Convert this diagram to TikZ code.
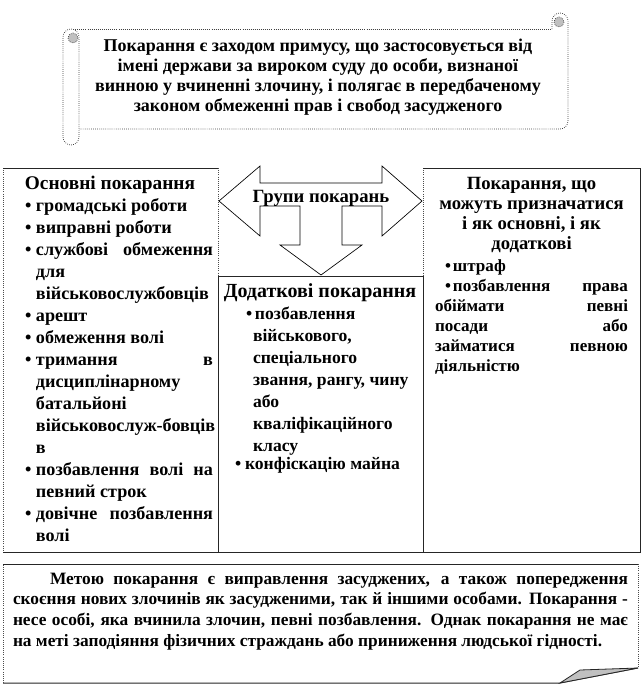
\documentclass[tikz,border=0pt]{standalone}
\usepackage{fontspec}
\setmainfont{Liberation Serif}
\newcommand\bul[1]{\makebox[#1][l]{\textbullet}}
\newcommand\jst{\rightskip=0pt\leftskip=0pt\parfillskip=0pt plus 1fil\tolerance=10000\hyphenpenalty=10000\exhyphenpenalty=10000\relax}
\newcommand\rag{\rightskip=0pt plus 1fil\leftskip=0pt\parfillskip=0pt plus 1fil\tolerance=10000\hyphenpenalty=10000\exhyphenpenalty=10000\relax}
\definecolor{curlgray}{HTML}{C0C0C0}
\tikzset{
  lnsolid/.style={draw=black!85,line width=0.75pt},
  lndot/.style={draw=black!70,line width=0.6pt,densely dotted},
  scrolldot/.style={draw=black!75,line width=0.55pt,densely dotted},
  tx/.style={inner sep=0pt,outer sep=0pt},
  arrowshape/.style={draw=black,line width=0.5pt,fill=white,line join=miter}
}
\begin{document}
\begin{tikzpicture}[x=0.75pt,y=-0.75pt]
\useasboundingbox (0,0) rectangle (642,696);
\fill[white] (0,0) rectangle (642,696);

% ---------- scroll ----------
\fill[white] (71,29) rectangle (568,129);
\draw[scrolldot] (71,29) -- (552,29);
\draw[scrolldot] (568,21) -- (568,121) .. controls (568,125.4) and (564.4,129) .. (560,129) -- (79,129);
% right roll
\filldraw[scrolldot,fill=white] (552,29) -- (552,21) .. controls (552,16.6) and (555.6,13) .. (560,13) .. controls (564.4,13) and (568,16.6) .. (568,21);
\filldraw[scrolldot,fill=curlgray] (559,22) circle[radius=5];
% left roll
\filldraw[scrolldot,fill=white] (79,37) -- (79,137) .. controls (79,141.4) and (75.4,145) .. (71,145) .. controls (66.6,145) and (63,141.4) .. (63,137) -- (63,37) .. controls (63,32.6) and (66.6,29) .. (71,29) .. controls (75.4,29) and (79,32.6) .. (79,37);
\filldraw[scrolldot,fill=curlgray] (73,38) circle[radius=5];
\node[tx,anchor=base] (def) at (318,51) {\parbox[t]{360pt}{\fontsize{13.5}{15}\selectfont\bfseries\centering
Покарання є заходом примусу, що застосовується від\\
імені держави за вироком суду до особи, визнаної\\
винною у вчиненні злочину, і полягає в передбаченому\\
законом обмеженні прав і свобод засудженого\par}};

% ---------- boxes ----------
\fill[white] (3,168) rectangle (218,552);
\fill[white] (423,168) rectangle (640,552);
\draw[lndot] (3,168) -- (3,552);
\draw[lndot] (218,168) -- (218,276);
\draw[lnsolid] (3,168) -- (218,168);
\draw[lnsolid] (3,552) -- (218,552);
\draw[lndot] (423,168) -- (423,276);
\draw[lnsolid] (423,168) -- (640,168) -- (640,552) -- (423,552);
\draw[lnsolid,fill=white] (218,276) rectangle (423,552);

% three-way arrow
\draw[arrowshape] (219,201) -- (260,166) -- (260,183) -- (382,183) -- (382,166) -- (422,201)
  -- (382,236) -- (382,206) -- (342,206) -- (342,245) -- (362,245) -- (321,275)
  -- (280,245) -- (300,245) -- (300,206) -- (260,206) -- (260,236) -- cycle;
\node[tx,anchor=base,font=\fontsize{14}{16.5}\selectfont\bfseries] (grp) at (321,202) {Групи покарань};

% left box
\node[tx,anchor=base,font=\fontsize{14.5}{16.5}\selectfont\bfseries] (osn) at (110,189) {Основні покарання};
\node[tx,anchor=base west] (osnl) at (25,211) {\parbox[t]{141pt}{\fontsize{13.6}{16.5}\selectfont\bfseries\jst
\hangindent=8.25pt\hangafter=1\bul{8.25pt}громадські роботи\par
\hangindent=8.25pt\hangafter=1\bul{8.25pt}виправні роботи\par
\hangindent=8.25pt\hangafter=1\bul{8.25pt}службові обмеження\linebreak для\newline військовослужбовців\par
\hangindent=8.25pt\hangafter=1\bul{8.25pt}арешт\par
\hangindent=8.25pt\hangafter=1\bul{8.25pt}обмеження волі\par
\hangindent=8.25pt\hangafter=1\bul{8.25pt}тримання в\linebreak дисциплінарному\newline батальйоні\newline військовослуж-бовців\newline в\par
\hangindent=8.25pt\hangafter=1\bul{8.25pt}позбавлення волі на\linebreak певний строк\par
\hangindent=8.25pt\hangafter=1\bul{8.25pt}довічне позбавлення\linebreak волі\par}};

% middle box
\node[tx,anchor=base,font=\fontsize{15}{16.5}\selectfont\bfseries] (dod) at (320,297) {Додаткові покарання};
\node[tx,anchor=base west] (dodl) at (246,319) {\parbox[t]{126.75pt}{\fontsize{13.2}{16.5}\selectfont\bfseries\rag
\hangindent=5.25pt\hangafter=1\bul{6.75pt}позбавлення\newline військового,\newline спеціального\newline звання, рангу, чину\newline або\newline кваліфікаційного\newline класу\par}};
\node[tx,anchor=base west,font=\fontsize{13.2}{16.5}\selectfont\bfseries] (dodk) at (235,469) {\bul{7.5pt}конфіскацію майна};

% right box
\node[tx,anchor=base] (obi) at (531.5,189) {\parbox[t]{162.75pt}{\fontsize{14}{15}\selectfont\bfseries\centering
Покарання, що\\ можуть призначатися\\ і як основні, і як\\ додаткові\par}};
\node[tx,anchor=base west] (obil) at (435,271) {\parbox[t]{144.75pt}{\fontsize{12.8}{15}\selectfont\bfseries\jst
\hspace*{7.5pt}\bul{6pt}штраф\par
\hspace*{7.5pt}\bul{6pt}позбавлення права\linebreak обіймати певні\linebreak посади або\linebreak займатися певною\linebreak діяльністю\par}};

% ---------- bottom note ----------
\fill[white] (3,564) -- (638,564) -- (638,668) -- (560,683) -- (3,683) -- cycle;
\draw[lnsolid] (3,564) -- (638,564);
\draw[lndot] (638,564) -- (638,668);
\draw[lnsolid] (638,668) -- (560,683) -- (3,683);
\draw[lndot] (3,683) -- (3,564);
\filldraw[draw=black!85,line width=0.6pt,fill=curlgray] (560,683) -- (580,670) -- (638,668) -- cycle;
\node[tx,anchor=base west] (goal) at (13,584) {\parbox[t]{461.25pt}{\fontsize{13}{15.5}\selectfont\bfseries\jst
\hspace*{27.75pt}Метою покарання є виправлення засуджених, а також попередження\linebreak
скоєння нових злочинів як засудженими, так й іншими особами. Покарання -\linebreak
несе особі, яка вчинила злочин, певні позбавлення. Однак покарання не має\linebreak
на меті заподіяння фізичних страждань або приниження людської гідності.\par}};
\end{tikzpicture}
\end{document}
